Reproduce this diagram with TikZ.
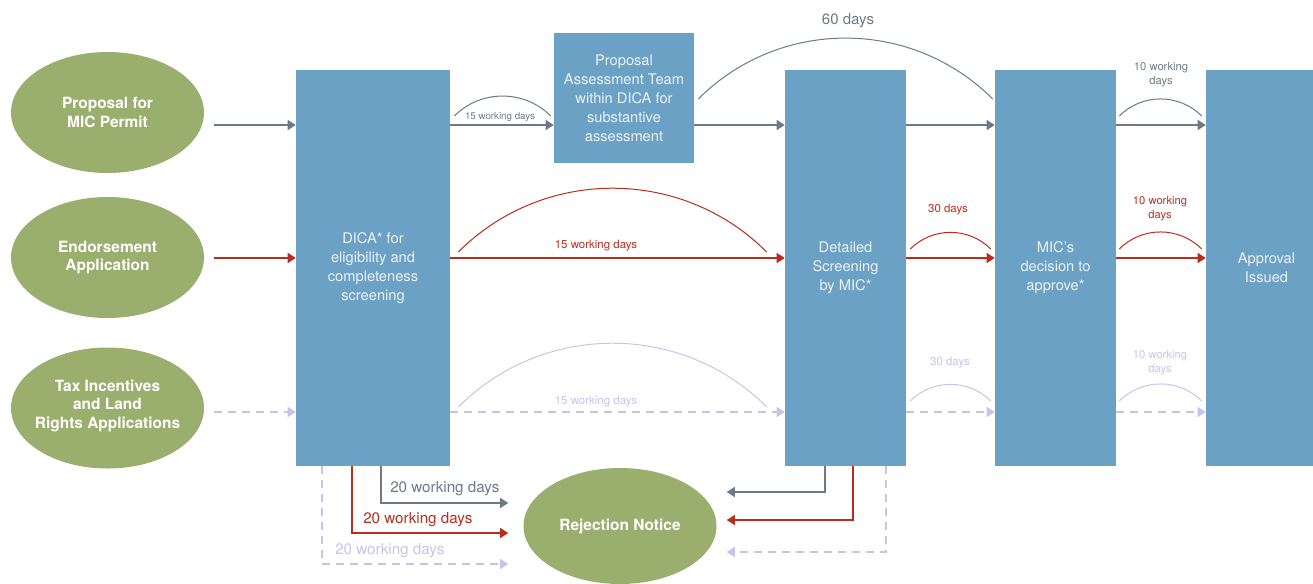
\documentclass[tikz,border=0pt]{standalone}
\usepackage{fontspec}
\setmainfont{TeX Gyre Heros}
\usetikzlibrary{arrows.meta,calc,shapes.geometric}

\definecolor{stageblue}{RGB}{106,161,196}
\definecolor{stagetext}{RGB}{236,242,247}
\definecolor{startgreen}{RGB}{154,174,110}
\definecolor{permitgray}{RGB}{108,122,134}
\definecolor{endorsered}{RGB}{186,45,30}
\definecolor{landlav}{RGB}{199,195,234}

\begin{document}
\begin{tikzpicture}[x=0.75pt,y=-0.75pt,
	stage/.style={fill=stageblue, text=stagetext, inner sep=0pt, align=center,
		font=\fontsize{11}{14.25}\selectfont},
	start/.style={ellipse, fill=startgreen, text=white, inner sep=0pt, align=center,
		minimum width=144.75pt, minimum height=90.75pt, font=\fontsize{11.6}{14}\selectfont\bfseries},
	grayarr/.style={draw=permitgray, line width=1.1pt, -{Triangle[length=6pt,width=7.5pt]}},
	redarr/.style={draw=endorsered, line width=1.1pt, -{Triangle[length=6pt,width=7.5pt]}},
	lavarr/.style={draw=landlav, line width=1.1pt, dash pattern=on 6pt off 4.5pt, -{Triangle[length=6pt,width=7.5pt]}},
	span/.style={line width=0.75pt, out=45, in=135},
	days/.style={inner sep=0pt, align=center}]
	\useasboundingbox (0,0) rectangle (1313,583);
	
	\coordinate (row1) at (0,125);
	\coordinate (row2) at (0,258);
	\coordinate (row3) at (0,412);
	
	% starting points
	\node[start] (permit) at (107.5,112.5) {Proposal for\\MIC Permit};
	\node[start] (endorse) at (107.5,257.5) {Endorsement\\Application};
	\node[start, inner xsep=-10pt, inner ysep=0pt, text depth=6pt] (land) at (107.5,408) {Tax Incentives\\and Land\\Rights Applications};
	\node[start, minimum height=87pt] (reject) at (620,526) {Rejection Notice};
	
	% stages
	\node[stage, minimum width=115.5pt, minimum height=297pt] (dica) at (373,268) {DICA* for\\eligibility and\\completeness\\screening};
	\node[stage, minimum width=105pt, minimum height=97.5pt] (team) at (624,98) {Proposal\\Assessment Team\\within DICA for\\substantive\\assessment};
	\node[stage, minimum width=90.75pt, minimum height=297pt] (screen) at (845.5,268) {Detailed\\Screening\\by MIC*};
	\node[stage, minimum width=90.75pt, minimum height=297pt] (decide) at (1055.5,268) {MIC's\\decision to\\approve*};
	\node[stage, minimum width=90.75pt, minimum height=297pt] (issued) at (1266.5,268) {Approval\\Issued};
	
	% MIC permit
	\draw[grayarr, shorten <=7.5pt] (permit.east |- row1) -- (dica.west |- row1);
	\draw[grayarr] (dica.east |- row1) -- (team.west |- row1);
	\draw[grayarr] (team.east |- row1) -- (screen.west |- row1);
	\draw[grayarr] (screen.east |- row1) -- (decide.west |- row1);
	\draw[grayarr] (decide.east |- row1) -- (issued.west |- row1);
	\draw[permitgray, span] ($(dica.east |- row1)+(4,-9)$) to ($(team.west |- row1)+(-3,-9)$);
	\draw[permitgray, span] ($(team.east |- row1)+(4,-26)$) to ($(decide.west |- row1)+(-2,-26)$);
	\draw[permitgray, span] ($(decide.east |- row1)+(3,-9)$) to ($(issued.west |- row1)+(-4,-9)$);
	\node[days, text=permitgray, font=\fontsize{7.3}{9}\selectfont] (p15) at (500,117) {15 working days};
	\node[days, text=permitgray, font=\fontsize{11.3}{13}\selectfont] (p60) at (848,21) {60 days};
	\node[days, text=permitgray, font=\fontsize{8.4}{10.5}\selectfont] (p10) at (1161,75) {10 working\\days};
	
	% endorsement
	\draw[redarr, shorten <=7.5pt] (endorse.east |- row2) -- (dica.west |- row2);
	\draw[redarr] (dica.east |- row2) -- (screen.west |- row2);
	\draw[redarr] (screen.east |- row2) -- (decide.west |- row2);
	\draw[redarr] (decide.east |- row2) -- (issued.west |- row2);
	\draw[endorsered, span] ($(dica.east |- row2)+(8,-6)$) to ($(screen.west |- row2)+(-18,-6)$);
	\draw[endorsered, span] ($(screen.east |- row2)+(4,-9)$) to ($(decide.west |- row2)+(-4,-9)$);
	\draw[endorsered, span] ($(decide.east |- row2)+(3,-9)$) to ($(issued.west |- row2)+(-4,-9)$);
	\node[days, text=endorsered, font=\fontsize{8.6}{10}\selectfont] (e15) at (596,246) {15 working days};
	\node[days, text=endorsered, font=\fontsize{8.6}{10}\selectfont] (e30) at (948,210) {30 days};
	\node[days, text=endorsered, font=\fontsize{8.4}{10.5}\selectfont] (e10) at (1160,209) {10 working\\days};
	
	% tax incentives and land rights
	\draw[lavarr, shorten <=7.5pt] (land.east |- row3) -- (dica.west |- row3);
	\draw[lavarr] (dica.east |- row3) -- (screen.west |- row3);
	\draw[lavarr] (screen.east |- row3) -- (decide.west |- row3);
	\draw[lavarr] (decide.east |- row3) -- (issued.west |- row3);
	\draw[landlav, span] ($(dica.east |- row3)+(8,-5)$) to ($(screen.west |- row3)+(-18,-5)$);
	\draw[landlav, span] ($(screen.east |- row3)+(4,-11)$) to ($(decide.west |- row3)+(-4,-11)$);
	\draw[landlav, span] ($(decide.east |- row3)+(3,-11)$) to ($(issued.west |- row3)+(-4,-11)$);
	\node[days, text=landlav, font=\fontsize{8.6}{10}\selectfont] (l15) at (596,402) {15 working days};
	\node[days, text=landlav, font=\fontsize{8.6}{10}\selectfont] (l30) at (950,363) {30 days};
	\node[days, text=landlav, font=\fontsize{8.4}{10.5}\selectfont] (l10) at (1160,363) {10 working\\days};
	
	% rejections
	\draw[grayarr, line width=0.9pt] ($(dica.south)+(8,0)$) |- ($(reject.west)+(-15,-23)$);
	\draw[redarr, line width=0.9pt] ($(dica.south)+(-21,0)$) |- ($(reject.west)+(-15,7)$);
	\draw[lavarr, line width=0.9pt] ($(dica.south)+(-51,0)$) |- ($(reject.west)+(-15,38)$);
	\draw[grayarr, line width=0.9pt] ($(screen.south)+(-20.5,0)$) |- ($(reject.east)+(10,-34)$);
	\draw[redarr, line width=0.9pt] ($(screen.south)+(7.5,0)$) |- ($(reject.east)+(10,-6)$);
	\draw[lavarr, line width=0.9pt] ($(screen.south)+(40.5,0)$) |- ($(reject.east)+(10,26)$);
	\node[days, anchor=west, text=permitgray, font=\fontsize{11.4}{13}\selectfont] (p20) at (390,489) {20 working days};
	\node[days, anchor=west, text=endorsered, font=\fontsize{11.4}{13}\selectfont] (e20) at (363,520) {20 working days};
	\node[days, anchor=west, text=landlav, font=\fontsize{11.4}{13}\selectfont] (l20) at (335,551) {20 working days};
	
\end{tikzpicture}
\end{document}
